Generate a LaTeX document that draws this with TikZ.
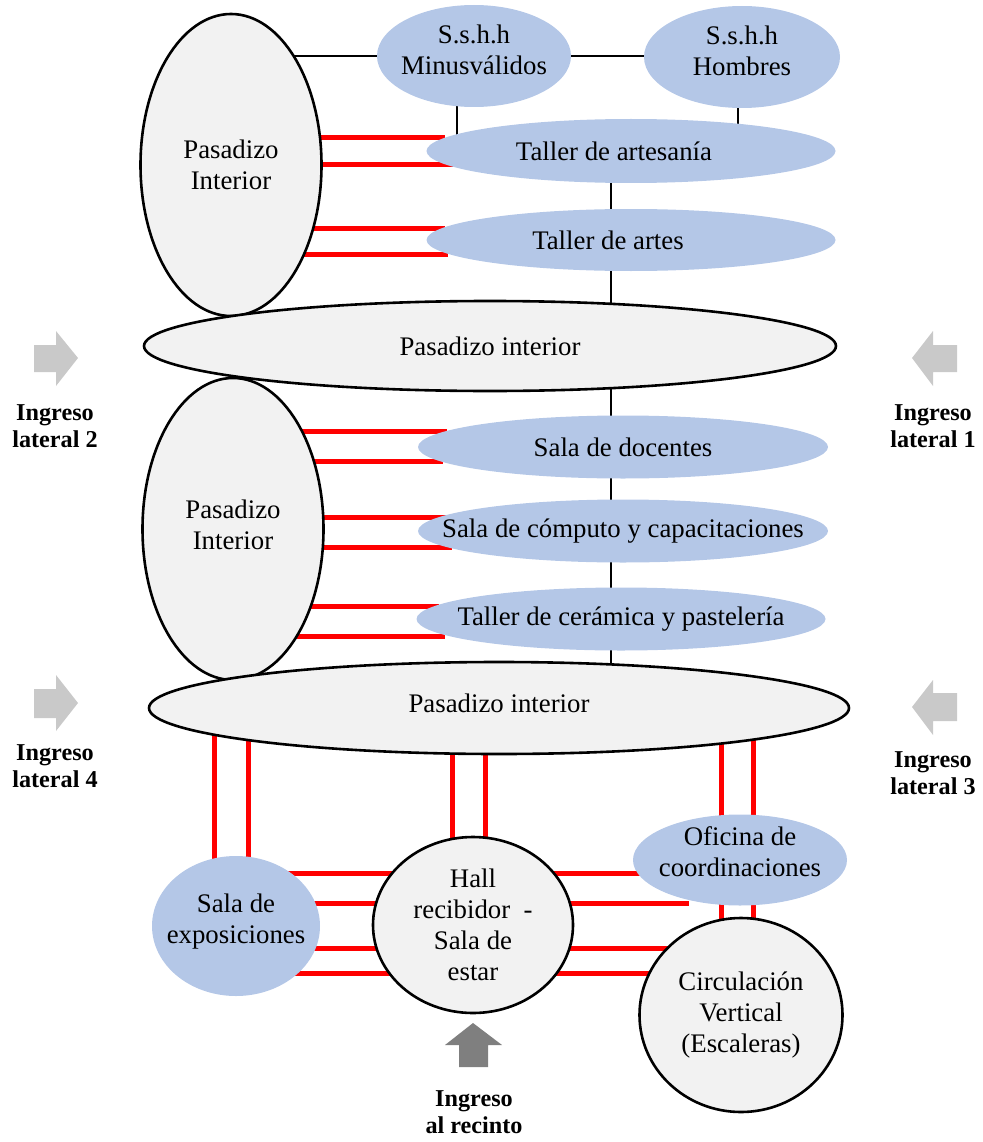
\documentclass[tikz,border=0pt]{standalone}
\usepackage{fontspec}
\setmainfont{Liberation Serif}
\usetikzlibrary{shapes.geometric}
\pgfdeclarelayer{lines}
\pgfsetlayers{lines,main}
\definecolor{lblue}{HTML}{B4C7E7}
\definecolor{lgray}{HTML}{F2F2F2}
\definecolor{arrlight}{HTML}{C9C9C9}
\definecolor{arrdark}{HTML}{7F7F7F}
\begin{document}
\begin{tikzpicture}[x=1pt,y=-1pt,
  txt/.style={font=\fontsize{26.8}{31}\selectfont, align=center},
  room/.style={ellipse, fill=lblue, inner xsep=-40pt, inner ysep=-8pt, txt},
  pasz/.style={ellipse, fill=lgray, draw=black, line width=2.6pt, inner xsep=-40pt, inner ysep=-8pt, txt},
  ingr/.style={font=\fontsize{24.2}{27}\selectfont\bfseries, align=center},
  redl/.style={draw=red, line width=5pt},
  blk/.style={draw=black, line width=1.3pt},
  arrl/.style={fill=arrlight},
  arrd/.style={fill=arrdark}]
\useasboundingbox (0,0) rectangle (982,1142);

% ---------- nodes ----------
\node[pasz, minimum width=181pt, minimum height=302pt] (pit) at (231,165) {Pasadizo\\Interior};
\node[room, minimum width=194pt, minimum height=102pt, text depth=13pt] (smin) at (474,56) {S.s.h.h\\Minusválidos};
\node[room, minimum width=196pt, minimum height=102pt, text depth=13pt] (sh) at (742,57) {S.s.h.h\\Hombres};
\node[room, minimum width=409pt, minimum height=64pt] (ta) at (631,151) {Taller de artesanía\kern34pt};
\node[room, minimum width=409pt, minimum height=62pt] (tar) at (631,240) {Taller de artes\kern46pt};
\node[pasz, minimum width=692pt, minimum height=90pt] (p1) at (490,346) {Pasadizo interior};

\node[pasz, minimum width=181pt, minimum height=302pt, text depth=8pt] (pib) at (233,529) {Pasadizo\\Interior};
\node[room, minimum width=410pt, minimum height=63pt] (doc) at (623,447) {Sala de docentes};
\node[room, minimum width=410pt, minimum height=63pt] (comp) at (623,531) {Sala de cómputo y capacitaciones};
\node[room, minimum width=409pt, minimum height=63pt] (cer) at (621,619) {Taller de cerámica y pastelería};
\node[pasz, minimum width=700pt, minimum height=92pt, text depth=10pt] (p2) at (499,708) {Pasadizo interior};

\node[room, minimum width=168pt, minimum height=140pt, text depth=15pt] (sx) at (236,926) {Sala de\\exposiciones};
\node[pasz, minimum width=200pt, minimum height=176pt] (hall) at (473,925) {Hall\\recibidor\ \ -\\Sala de\\estar};
\node[room, minimum width=214pt, minimum height=91pt, text depth=16pt] (of) at (740,860) {Oficina de\\coordinaciones};
\node[pasz, minimum width=203pt, minimum height=194pt] (circ) at (741,1015) {Circulación\\Vertical\\(Escaleras)};

% ---------- entrance labels ----------
\node[ingr] (l2) at (55,426) {Ingreso\\lateral 2};
\node[ingr] (l1) at (933,426) {Ingreso\\lateral 1};
\node[ingr] (l4) at (55,766) {Ingreso\\lateral 4};
\node[ingr] (l3) at (933,773) {Ingreso\\lateral 3};
\node[ingr] (lr) at (474,1112) {Ingreso\\al recinto};

% ---------- entrance arrows ----------
\fill[arrl] (34,345) -- (56,345) -- (56,331) -- (78,358) -- (56,386) -- (56,372) -- (34,372) -- cycle;
\fill[arrl] (957,345) -- (933,345) -- (933,331) -- (912,358) -- (933,386) -- (933,372) -- (957,372) -- cycle;
\fill[arrl] (34,689) -- (56,689) -- (56,675) -- (78,703) -- (56,731) -- (56,718) -- (34,718) -- cycle;
\fill[arrl] (957,693) -- (933,693) -- (933,680) -- (912,707) -- (933,735) -- (933,721) -- (957,721) -- cycle;
\fill[arrd] (459,1067) -- (459,1045) -- (445,1045) -- (473,1023) -- (502,1045) -- (488,1045) -- (488,1067) -- cycle;

% ---------- helper coordinates ----------
\coordinate (spine) at (611,0);
\coordinate (r1) at (445,138);
\coordinate (r2) at (455,165);
\coordinate (r3) at (445,228);
\coordinate (r4) at (448,254);
\coordinate (r5) at (447,431);
\coordinate (r6) at (443,461);
\coordinate (r7) at (448,517);
\coordinate (r8) at (452,547);
\coordinate (r9) at (439,606);
\coordinate (r10) at (445,636);
\coordinate (ya) at (0,873);
\coordinate (yb) at (0,903);
\coordinate (yc) at (0,948);
\coordinate (yd) at (0,973);
\coordinate (fe) at (689,903);

% ---------- connectors ----------
\begin{pgfonlayer}{lines}
  \draw[blk] (pit.center |- smin.center) -- (smin.center) -- (smin.center -| sh.center);
  \draw[blk] ([xshift=-17pt]smin.center) -- ([xshift=-17pt]smin.center |- ta.center);
  \draw[blk] ([xshift=-4pt]sh.center) -- ([xshift=-4pt]sh.center |- ta.center);
  \draw[blk] (ta.center -| spine) -- (p2.center -| spine);

  \draw[redl] (pit.center |- r1) -- (r1);
  \draw[redl] (pit.center |- r2) -- (r2);
  \draw[redl] (pit.center |- r3) -- (r3);
  \draw[redl] (pit.center |- r4) -- (r4);
  \draw[redl] (pib.center |- r5) -- (r5);
  \draw[redl] (pib.center |- r6) -- (r6);
  \draw[redl] (pib.center |- r7) -- (r7);
  \draw[redl] (pib.center |- r8) -- (r8);
  \draw[redl] (pib.center |- r9) -- (r9);
  \draw[redl] (pib.center |- r10) -- (r10);

  \draw[redl] ([xshift=-22pt]sx.center) -- ([xshift=-22pt]sx.center |- p2.center);
  \draw[redl] ([xshift=12pt]sx.center) -- ([xshift=12pt]sx.center |- p2.center);
  \draw[redl] ([xshift=-21pt]hall.center) -- ([xshift=-21pt]hall.center |- p2.center);
  \draw[redl] ([xshift=12pt]hall.center) -- ([xshift=12pt]hall.center |- p2.center);
  \draw[redl] ([xshift=-20pt]circ.center) -- ([xshift=-20pt]circ.center |- p2.center);
  \draw[redl] ([xshift=12pt]circ.center) -- ([xshift=12pt]circ.center |- p2.center);

  \draw[redl] (sx.center |- ya) -- (hall.center |- ya);
  \draw[redl] (sx.center |- yb) -- (hall.center |- yb);
  \draw[redl] (sx.center |- yc) -- (hall.center |- yc);
  \draw[redl] (sx.center |- yd) -- (hall.center |- yd);
  \draw[redl] (hall.center |- ya) -- (of.center |- ya);
  \draw[redl] (hall.center |- yb) -- (fe);
  \draw[redl] (hall.center |- yc) -- (circ.center |- yc);
  \draw[redl] (hall.center |- yd) -- (circ.center |- yd);
\end{pgfonlayer}
\end{tikzpicture}
\end{document}
